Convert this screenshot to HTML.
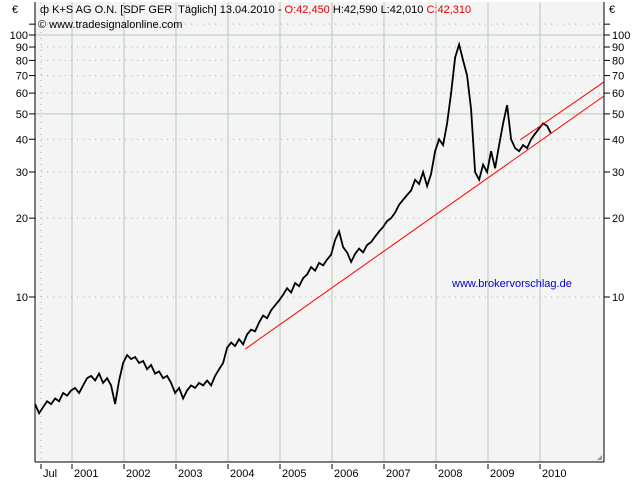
<!DOCTYPE html>
<html><head><meta charset="utf-8"><style>
body{margin:0;background:#fff;}
svg text{font-family:"Liberation Sans",sans-serif;font-size:11px;}
</style></head><body>
<svg id="c" width="640" height="480" xmlns="http://www.w3.org/2000/svg">
<rect x="35" y="2" width="569" height="460" fill="#f4f4f4"/>
<g id="grid"></g>
<g id="axes"></g>
<g id="series"></g>
<line x1="35" y1="2" x2="35" y2="462" stroke="#000"/>
<line x1="604" y1="2" x2="604" y2="462" stroke="#000"/>
<line x1="35" y1="462" x2="604" y2="462" stroke="#000"/>
<text x="40" y="13"><tspan>ф K+S AG O.N. [SDF GER&#160; Täglich] 13.04.2010 - </tspan><tspan fill="#e00000">O:42,450</tspan><tspan> H:42,590 L:42,010 </tspan><tspan fill="#e00000">C:42,310</tspan></text>
<text x="38" y="28">© www.tradesignalonline.com</text>
<text x="452" y="287" fill="#0000cc">www.brokervorschlag.de</text>
<text x="12" y="13">€</text>
<text x="609" y="13">€</text>
<path d="M597 460 L602 455 L602 460 Z" fill="#999"/>
</svg>
<script>
const yTicks=[10,20,30,40,50,60,70,80,90,100];
const solidY=[50,100];
const yearTicks=[2001,2002,2003,2004,2005,2006,2007,2008,2009,2010];
const yearLabels=["2001","2002","2003","2004","2005","2006","2007","2008","2009","2010"];
const startYear=2000.29;
const step=1/13;
const closes=[3.9,3.6,3.8,4.0,3.9,4.1,4.0,4.3,4.2,
4.4,4.5,4.3,4.6,4.9,5.0,4.8,5.1,4.7,4.9,4.6,3.9,4.8,
5.6,6.0,5.8,5.9,5.6,5.7,5.3,5.5,5.1,5.2,4.9,5.0,4.7,
4.3,4.5,4.1,4.4,4.6,4.5,4.7,4.6,4.8,4.6,5.0,5.3,5.6,
6.4,6.7,6.5,6.9,6.6,7.2,7.5,7.4,8.0,8.5,8.3,8.9,9.3,
9.7,10.2,10.8,10.4,11.3,11.0,11.8,12.2,13.0,12.6,13.5,13.2,13.9,
14.5,16.5,17.8,15.5,14.8,13.6,14.6,15.3,14.8,15.8,16.2,17.0,17.8,
18.5,19.5,20.0,21.0,22.5,23.5,24.5,25.5,28.0,27.0,30.0,26.5,29.5,
36,40,38,46,60,82,92,80,70,52,30,28,32,
30,36,31,38,46,54,40,37,36,38,37,40,42,
44,46,45,42];
const trendLowerDates=[2004.33,2011.23];
const trendLowerValues=[6.33,58.5];
const trendUpperDates=[2009.62,2011.23];
const trendUpperValues=[39.8,66.2];
const NS="http://www.w3.org/2000/svg";
function xS(yr){return 72+(yr-2001)*52;}
function yS(v){return 35+262*(2-Math.log10(v));}
function mk(tag,attrs,parent){const e=document.createElementNS(NS,tag);for(const k in attrs)e.setAttribute(k,attrs[k]);parent.appendChild(e);return e;}
const grid=document.getElementById('grid'),axes=document.getElementById('axes'),series=document.getElementById('series');
[110].forEach(v=>{const l=mk('line',{x1:35,x2:604,y1:yS(v),y2:yS(v),stroke:'#b0b0b0','stroke-dasharray':'1,5'},grid);


[[29,35],[604,610]].forEach(p=>{const t=mk('line',{x1:p[0],x2:p[1],y1:yS(v),y2:yS(v),stroke:'#000'},axes);

});});
yTicks.forEach(v=>{const y=yS(v);const solid=solidY.includes(v);
const l=mk('line',solid?{x1:35,x2:604,y1:y,y2:y,stroke:'#b4ccb4'}:{x1:35,x2:604,y1:y,y2:y,stroke:'#b0b0b0','stroke-dasharray':'1,5'},grid);


const t1=mk('line',{x1:29,x2:35,y1:y,y2:y,stroke:'#000'},axes);


const t2=mk('line',{x1:604,x2:610,y1:y,y2:y,stroke:'#000'},axes);


const a=mk('text',{x:28,y:y+4,'text-anchor':'end'},axes);a.textContent=v;


const b=mk('text',{x:612,y:y+4},axes);b.textContent=v;

});
const jx=xS(2000.5)-5;
const jl=mk('line',{x1:jx,x2:jx,y1:2,y2:462,stroke:'#b0b0b0','stroke-dasharray':'1,5'},grid);


const jt=mk('line',{x1:jx,x2:jx,y1:464,y2:469,stroke:'#000'},axes);


const jlab=mk('text',{x:jx+2,y:477},axes);jlab.textContent='Jul';


yearTicks.forEach((yr,i)=>{const x=xS(yr);
const l=mk('line',{x1:x,x2:x,y1:2,y2:462,stroke:'#b4ccb4'},grid);


const t=mk('line',{x1:x,x2:x,y1:464,y2:469,stroke:'#000'},axes);


const s=mk('text',{x:x+2,y:477},axes);s.textContent=yearLabels[i];

});
const pts=closes.map((v,i)=>xS(startYear+i*step).toFixed(1)+','+yS(v).toFixed(1)).join(' ');
const pl=mk('polyline',{points:pts,fill:'none',stroke:'#000','stroke-width':1.8,'stroke-linejoin':'miter'},series);


[[trendLowerDates,trendLowerValues,'trendline-lower'],[trendUpperDates,trendUpperValues,'trendline-upper']].forEach(tr=>{
const l=mk('line',{x1:xS(tr[0][0]),y1:yS(tr[1][0]),x2:xS(tr[0][1]),y2:yS(tr[1][1]),stroke:'#ff0000','stroke-width':1},series);

});
</script>
</body></html>
